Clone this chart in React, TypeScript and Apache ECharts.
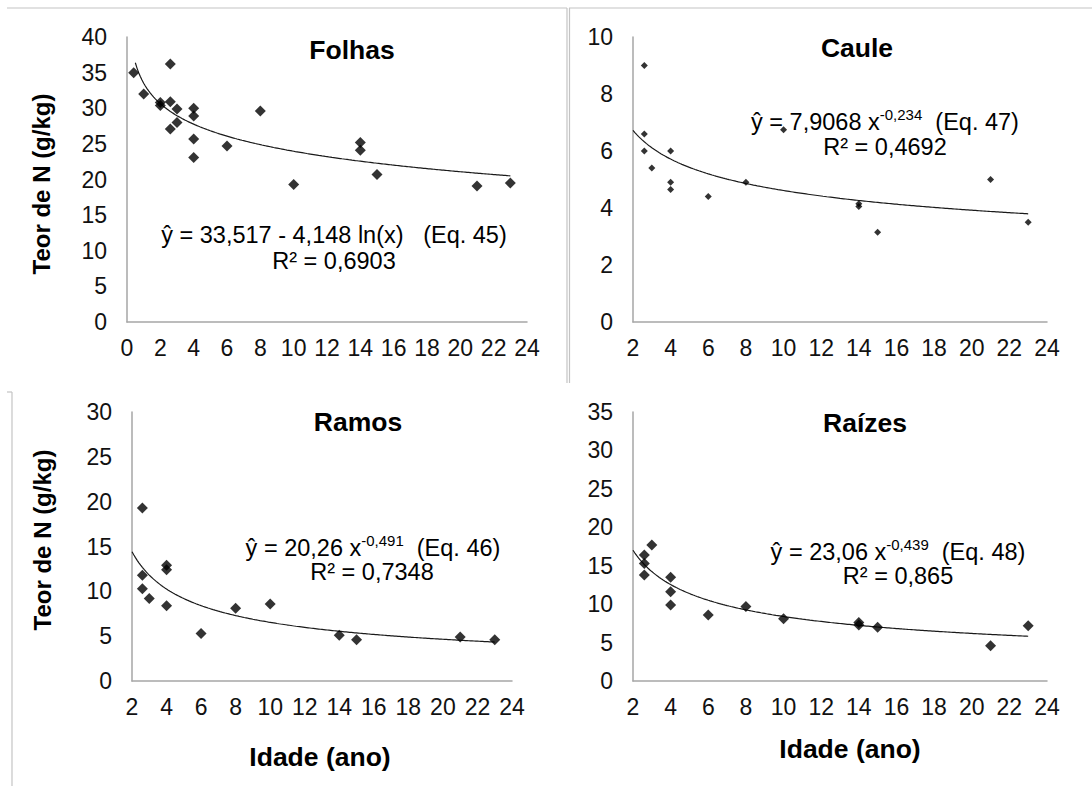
import React, { useEffect, useRef } from "react";
import * as echarts from "echarts";

// ---- Data ----
const folhasX = [0.4, 1, 2, 2, 2.6, 2.6, 2.6, 3, 3, 4, 4, 4, 4, 6, 8, 10, 14, 14, 15, 21, 23];
const folhasY = [35.0, 32.0, 30.8, 30.4, 36.2, 30.9, 27.1, 28.0, 29.9, 30.0, 28.9, 25.7, 23.1, 24.7, 29.6, 19.3, 25.2, 24.1, 20.7, 19.1, 19.5];

const cauleX = [2.6, 2.6, 2.6, 3, 4, 4, 4, 6, 8, 10, 14, 14, 15, 21, 23];
const cauleY = [9.0, 6.6, 6.0, 5.4, 6.0, 4.9, 4.65, 4.4, 4.9, 6.75, 4.15, 4.05, 3.15, 5.0, 3.5];

const ramosX = [2.6, 2.6, 2.6, 3, 4, 4, 4, 6, 8, 10, 14, 15, 21, 23];
const ramosY = [19.3, 11.8, 10.3, 9.2, 12.9, 12.4, 8.4, 5.3, 8.1, 8.6, 5.1, 4.6, 4.9, 4.6];

const raizesX = [2.6, 2.6, 2.6, 3, 4, 4, 4, 6, 8, 10, 14, 14, 15, 21, 23];
const raizesY = [16.4, 15.3, 13.8, 17.7, 13.5, 11.6, 9.9, 8.6, 9.7, 8.1, 7.6, 7.3, 7.0, 4.6, 7.2];

// fitted equations printed on the chart
const folhasFit = [33.517, -4.148]; // a + b ln(x)
const cauleFit = [7.9068, -0.234]; // a x^b
const ramosFit = [20.26, -0.491];
const raizesFit = [23.06, -0.439];
const folhasFitRange = [0.5, 23];
const powerFitRange = [2, 23];

const panelTitles = ["Folhas", "Caule", "Ramos", "Raízes"];
const yTitle = "Teor de N (g/kg)";
const xTitle = "Idade (ano)";

const FONT = "'Liberation Sans', Arial, sans-serif";

function curve(range: number[], f: (x: number) => number) {
  const pts: number[][] = [];
  const step = 0.1;
  for (let x = range[0]; x <= range[1] + 1e-9; x += step) pts.push([x, f(x)]);
  return pts;
}

function zip(xs: number[], ys: number[]) {
  return xs.map((x, i) => [x, ys[i]]);
}

export default function App() {
  const ref = useRef<HTMLDivElement>(null);
  useEffect(() => {
    if (!ref.current) return;
    const chart = echarts.init(ref.current, null, { renderer: "svg" });

    const grids = [
      { left: 127, top: 37, width: 400, height: 285 },
      { left: 633, top: 37, width: 414, height: 285 },
      { left: 132, top: 412, width: 380, height: 269 },
      { left: 633, top: 412, width: 414, height: 269 },
    ];
    const xRanges = [
      [0, 24],
      [2, 24],
      [2, 24],
      [2, 24],
    ];
    const yRanges = [
      [0, 40, 5],
      [0, 10, 2],
      [0, 30, 5],
      [0, 35, 5],
    ];
    const axisLine = { show: true, lineStyle: { color: "#a6a6a6", width: 1.5 } };
    const axisLabel = { color: "#111", fontSize: 23, fontFamily: FONT };

    const xAxis = xRanges.map((r, i) => ({
      type: "value",
      gridIndex: i,
      min: r[0],
      max: r[1],
      interval: 2,
      axisLine,
      axisTick: { show: false },
      splitLine: { show: false },
      axisLabel: { ...axisLabel, margin: 14 },
    }));
    const yAxis = yRanges.map((r, i) => ({
      type: "value",
      gridIndex: i,
      min: r[0],
      max: r[1],
      interval: r[2],
      axisLine,
      axisTick: { show: false },
      splitLine: { show: false },
      axisLabel: { ...axisLabel, margin: 20 },
    }));

    const scatter = (i: number, xs: number[], ys: number[], size: number) => ({
      type: "scatter",
      xAxisIndex: i,
      yAxisIndex: i,
      data: zip(xs, ys),
      symbol: "diamond",
      symbolSize: size,
      itemStyle: { color: "#000" },
      z: 3,
    });
    const trend = (i: number, pts: number[][]) => ({
      type: "line",
      xAxisIndex: i,
      yAxisIndex: i,
      data: pts,
      showSymbol: false,
      symbol: "none",
      smooth: false,
      lineStyle: { color: "#1a1a1a", width: 1.2 },
      z: 2,
    });

    const series = [
      trend(0, curve(folhasFitRange, (x) => folhasFit[0] + folhasFit[1] * Math.log(x))),
      scatter(0, folhasX, folhasY, 11),
      trend(1, curve(powerFitRange, (x) => cauleFit[0] * Math.pow(x, cauleFit[1]))),
      scatter(1, cauleX, cauleY, 7),
      trend(2, curve(powerFitRange, (x) => ramosFit[0] * Math.pow(x, ramosFit[1]))),
      scatter(2, ramosX, ramosY, 11),
      trend(3, curve(powerFitRange, (x) => raizesFit[0] * Math.pow(x, raizesFit[1]))),
      scatter(3, raizesX, raizesY, 11),
    ];

    const txt = (x: number, y: number, text: string, size: number, bold = false, rotation = 0) => ({
      type: "text",
      x,
      y,
      rotation,
      style: {
        text,
        fontSize: size,
        fontWeight: bold ? "bold" : "normal",
        fontFamily: FONT,
        fill: "#000",
        align: "center",
        verticalAlign: "middle",
      },
      z: 10,
    });
    const eqRich = (x: number, y: number, a: string, sup: string, tail: string) => ({
      type: "text",
      x,
      y,
      style: {
        text: `{n|${a}}{s|${sup}}{n|${tail}}`,
        align: "center",
        verticalAlign: "middle",
        rich: {
          n: { fontSize: 23.5, fontFamily: FONT, fill: "#000", lineHeight: 27, verticalAlign: "bottom" },
          s: { fontSize: 15, fontFamily: FONT, fill: "#000", lineHeight: 15, verticalAlign: "top" },
        },
      },
      z: 10,
    });
    const gl = (x1: number, y1: number, x2: number, y2: number) => ({
      type: "line",
      shape: { x1, y1, x2, y2 },
      style: { stroke: "#c4c4c4", lineWidth: 1.2 },
      z: 1,
    });

    const graphic = [
      // frame lines of the pasted figure
      gl(7, 8, 567, 8),
      gl(569, 8, 1092, 8),
      gl(567, 8, 567, 383),
      gl(569.5, 8, 569.5, 383),
      gl(7, 392, 12, 392),
      gl(12, 392, 12, 786),
      // panel titles
      txt(352, 50, panelTitles[0], 26.5, true),
      txt(857, 48, panelTitles[1], 26.5, true),
      txt(358, 422, panelTitles[2], 26.5, true),
      txt(865, 423, panelTitles[3], 26.5, true),
      // axis titles
      txt(41, 184, yTitle, 24, true, Math.PI / 2),
      txt(42, 540, yTitle, 24, true, Math.PI / 2),
      txt(320, 757, xTitle, 26.5, true),
      txt(850, 749, xTitle, 26.5, true),
      // equations
      txt(334, 235, "ŷ = 33,517 - 4,148 ln(x)   (Eq. 45)", 23.5),
      txt(334, 261, "R² = 0,6903", 23.5),
      eqRich(885, 120, "ŷ = 7,9068 x", "-0,234", "  (Eq. 47)"),
      txt(885, 147, "R² = 0,4692", 23.5),
      eqRich(373, 546, "ŷ = 20,26 x", "-0,491", "  (Eq. 46)"),
      txt(372, 572, "R² = 0,7348", 23.5),
      eqRich(898, 550, "ŷ = 23,06 x", "-0,439", "  (Eq. 48)"),
      txt(898, 576, "R² = 0,865", 23.5),
    ];

    chart.setOption({
      animation: false,
      backgroundColor: "#fff",
      grid: grids,
      xAxis,
      yAxis,
      series,
      graphic,
    });
    return () => chart.dispose();
  }, []);
  return (
    <div
      ref={ref}
      style={{ position: "absolute", left: 0, top: 0, width: 1092, height: 792 }}
    />
  );
}
